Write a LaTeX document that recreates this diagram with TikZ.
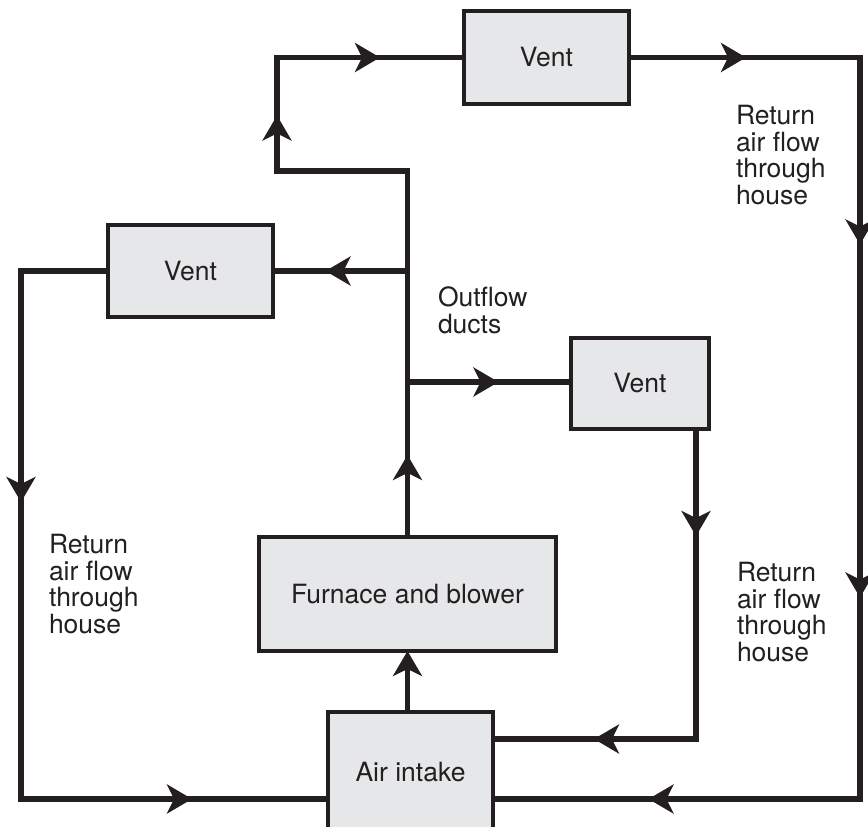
\documentclass[tikz,border=0pt]{standalone}
\usepackage{fontspec}
\setmainfont{TeX Gyre Heros}
\usetikzlibrary{arrows.meta,decorations.markings}
\definecolor{ink}{HTML}{231F20}
\definecolor{boxfill}{HTML}{E6E7E8}
\tikzset{
  unitbox/.style={draw=ink,fill=boxfill,line width=4pt,outer sep=0pt,inner sep=0pt,
    font=\fontsize{26.5}{27}\selectfont,text=ink},
  flow/.style={draw=ink,line width=5.5pt,line join=miter},
  tipat/.style={postaction={decorate,decoration={markings,
    mark=at position #1 with {\arrow[ink]{Stealth[length=25pt,width=29pt,inset=7pt]}}}}},
  endtip/.style={-{Stealth[length=25pt,width=29pt,inset=7pt]}},
  lbl/.style={anchor=north west,inner sep=0pt,outer sep=0pt,align=left,
    font=\fontsize{26.5}{26.7}\selectfont,text=ink}
}
\begin{document}
\begin{tikzpicture}[x=1pt,y=-1pt]
\useasboundingbox (0,0) rectangle (868,827);
% boxes
\node[unitbox,minimum width=165pt,minimum height=93pt] (ventT) at (546.5,57.5) {Vent};
\node[unitbox,minimum width=165pt,minimum height=92pt] (ventL) at (190.5,271) {Vent};
\node[unitbox,minimum width=138pt,minimum height=91pt] (ventR) at (640,383.5) {Vent};
\node[unitbox,minimum width=297pt,minimum height=114pt] (furnace) at (407.5,594) {Furnace and blower};
\node[unitbox,minimum width=165pt,minimum height=120pt] (intake) at (410.5,772) {Air intake};
% corner and junction coordinates
\coordinate (a1) at (407.5,171);
\coordinate (a2) at (277,171);
\coordinate (a3) at (277,57.5);
\coordinate (jL) at (407.5,271);
\coordinate (jR) at (407.5,382);
\coordinate (d1) at (860,57.5);
\coordinate (d2) at (860,799);
\coordinate (e1) at (21,271);
\coordinate (e2) at (21,799);
\coordinate (f1) at (696,739);
% outflow ducts
\draw[flow,tipat=82pt,tipat=552pt,tipat=713pt] (furnace.north) -- (a1) -- (a2) -- (a3) -- (ventT.west);
\draw[flow,tipat=82pt] (jL) -- (jL -| ventL.east);
\draw[flow,tipat=91pt] (jR) -- (jR -| ventR.west);
% returns
\draw[flow,tipat=117pt,tipat=418pt,tipat=771pt,tipat=1184pt] (ventT.east) -- (d1) -- (d2) -- (intake.east |- d2);
\draw[flow,tipat=318pt,tipat=786pt] (ventL.west) -- (e1) -- (e2) -- (intake.west |- e2);
\draw[flow,tipat=107pt,tipat=412pt] (ventR.south -| f1) -- (f1) -- (intake.east |- f1);
\draw[flow,endtip] (intake.north -| furnace.south) -- (furnace.south);
% labels
\node[lbl] (rt) at (736,105) {Return\\air flow\\through\\house};
\node[lbl] (rl) at (49,534) {Return\\air flow\\through\\house};
\node[lbl] (rb) at (737,562) {Return\\air flow\\through\\house};
\node[lbl] (od) at (438,287) {Outflow\\ducts};
\end{tikzpicture}
\end{document}
